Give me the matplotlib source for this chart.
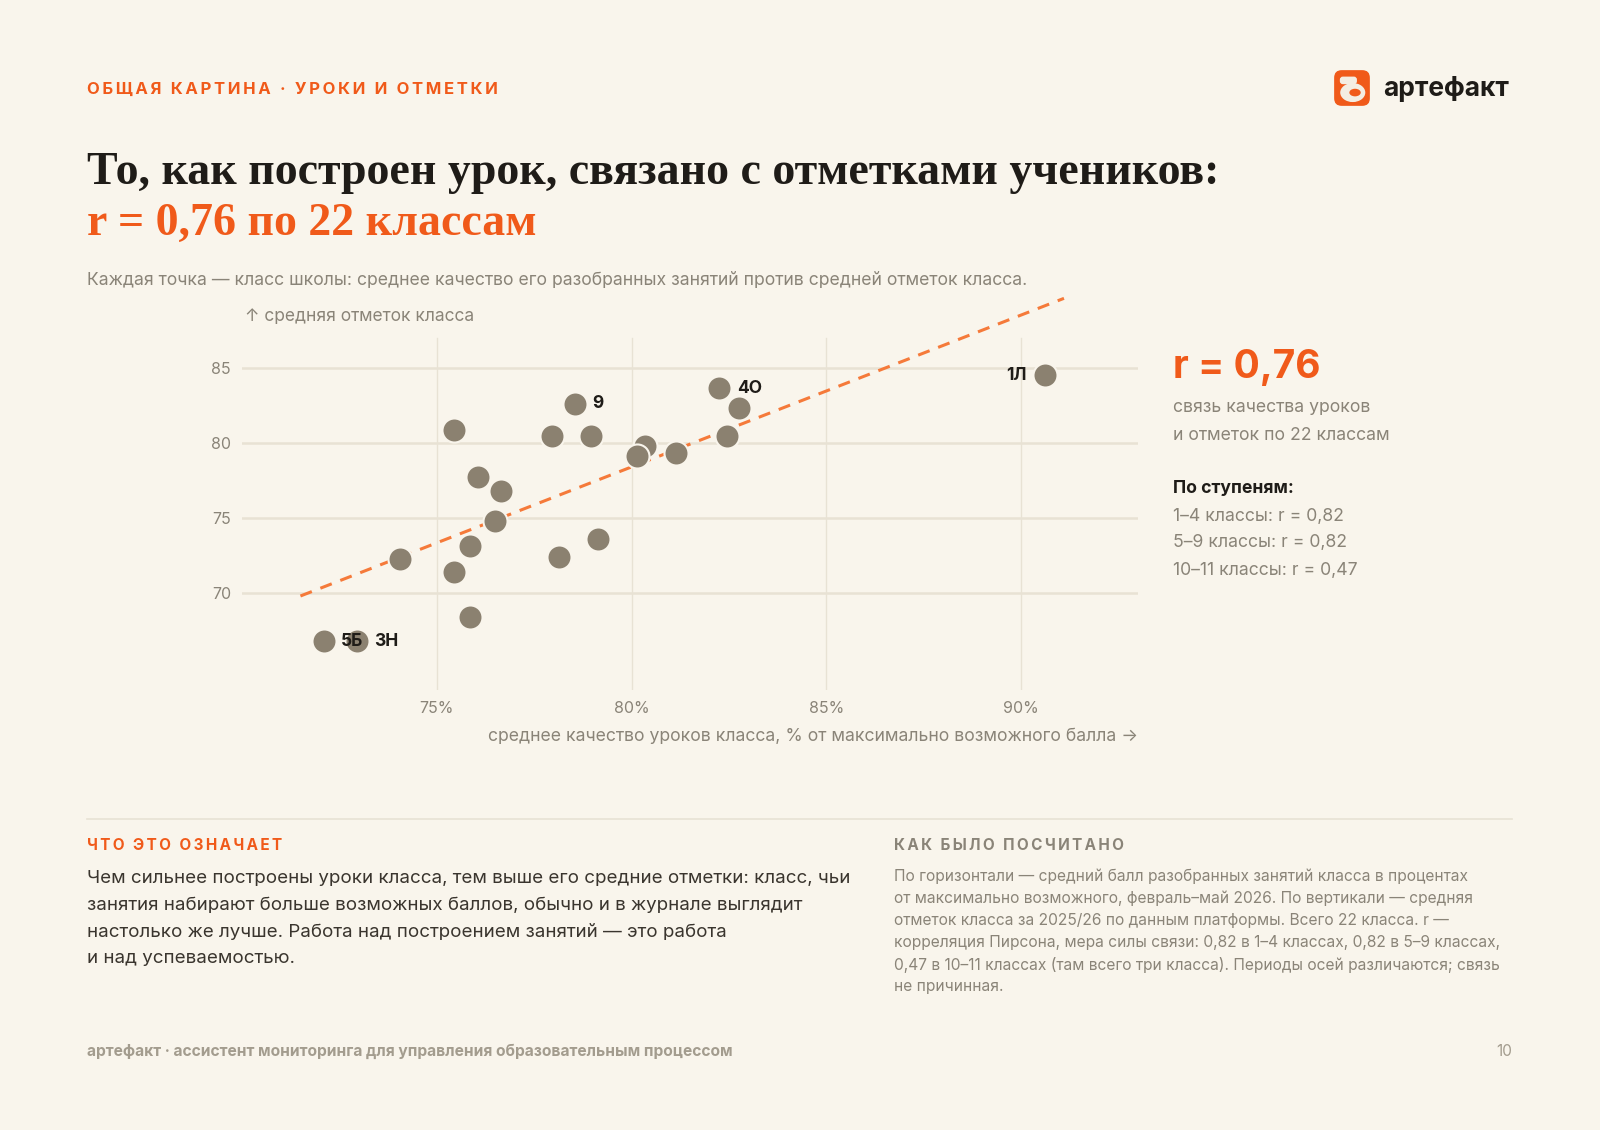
import numpy as np
import matplotlib.pyplot as plt
from matplotlib.patches import FancyBboxPatch, Ellipse

# данные: качество уроков (%) и средняя отметка класса
quality = [90.6, 82.25, 82.75, 78.55, 75.45, 77.95, 78.95, 80.35, 80.15, 81.15, 82.45,
           76.05, 76.65, 76.5, 79.15, 75.85, 78.15, 74.05, 75.45, 75.85, 72.1, 72.95]
grades = [84.5, 83.65, 82.35, 82.6, 80.85, 80.45, 80.45, 79.8, 79.1, 79.3, 80.45,
          77.75, 76.75, 74.8, 73.6, 73.1, 72.4, 72.25, 71.4, 68.4, 66.75, 66.75]
labels = {0: ("1Л", "left"), 1: ("4О", "right"), 3: ("9", "right"),
          20: ("5Б", "right"), 21: ("3Н", "right")}
xticks = [75, 80, 85, 90]
xticklabels = ["75%", "80%", "85%", "90%"]
yticks = [70, 75, 80, 85]
trend_x = [71.5, 91.1]
stages = ["1–4 классы: r = 0,82", "5–9 классы: r = 0,82", "10–11 классы: r = 0,47"]

BG = "#f9f5ec"
OR = "#f05a1a"
DOT = "#8b8170"
GRID = "#e8e2d4"
GRAY = "#8a8478"
DARK = "#1f1c18"

plt.rcParams['font.family'] = ['Inter', 'DejaVu Sans']
fig = plt.figure(figsize=(16, 11.3), dpi=100, facecolor=BG)

def T(x, y, s, **kw):
    fig.text(x / 1600, 1 - y / 1130, s, va="center", **kw)

def spaced(s):
    return "\u2009".join(s)

# шапка
T(87, 89, spaced("ОБЩАЯ КАРТИНА · УРОКИ И ОТМЕТКИ"), color=OR, fontsize=12, weight="bold",
  family=['Inter', 'DejaVu Sans'])
T(1383, 89, "артефакт", color=DARK, fontsize=19, weight="bold")
lax = fig.add_axes([1333 / 1600, 1 - 107 / 1130, 38 / 1600, 38 / 1130])
lax.set_xlim(0, 1); lax.set_ylim(0, 1); lax.axis("off")
lax.add_patch(FancyBboxPatch((0.03, 0.03), 0.94, 0.94, boxstyle="round,pad=0,rounding_size=0.2",
                             fc=OR, ec="none"))
lax.add_patch(Ellipse((0.52, 0.38), 0.66, 0.5, fc="#f4ede2", ec="none"))
lax.add_patch(Ellipse((0.58, 0.38), 0.3, 0.2, fc=OR, ec="none"))
lax.add_patch(FancyBboxPatch((0.18, 0.6), 0.45, 0.2, boxstyle="round,pad=0,rounding_size=0.08",
                             fc="#f4ede2", ec="none"))

T(87, 173, "То, как построен урок, связано с отметками учеников:", color=DARK,
  fontsize=33, weight="bold", family="Liberation Serif")
T(87, 224, "r = 0,76 по 22 классам", color=OR, fontsize=33, weight="bold",
  family="Liberation Serif")
T(87, 281, "Каждая точка — класс школы: среднее качество его разобранных занятий против средней отметок класса.",
  color=GRAY, fontsize=12.7)

# график
ax = fig.add_axes([242 / 1600, 1 - 690 / 1130, 896 / 1600, 397 / 1130])
ax.set_facecolor(BG)
ax.set_xlim(70, 93)
ax.set_ylim(63.5, 90)
for s in ax.spines.values():
    s.set_visible(False)
ax.set_xticks(xticks, xticklabels)
ax.set_yticks(yticks)
ax.tick_params(length=0, colors=GRAY, labelsize=11.5, pad=8)
for v in xticks:
    ax.plot([v, v], [63.5, 87], color=GRID, lw=1, zorder=0)
for v in yticks:
    ax.axhline(v, color=GRID, lw=1.8, zorder=0)

k, b = np.polyfit(quality, grades, 1)
tx = np.array(trend_x)
ax.plot(tx, k * tx + b, color="#f57a3a", lw=2.2, ls=(0, (4, 3)), zorder=2, clip_on=False)
ax.scatter(quality, grades, s=300, color=DOT, edgecolor=BG, lw=1.5, zorder=3)
for i, (lab, side) in labels.items():
    dx = -0.45 if side == "left" else 0.45
    ax.text(quality[i] + dx, grades[i], lab, ha="right" if side == "left" else "left",
            va="center", fontsize=12.5, weight="bold", color=DARK, zorder=4)

T(245, 316, "↑ средняя отметок класса", color=GRAY, fontsize=12.5)
T(1138, 737, "среднее качество уроков класса, % от максимально возможного балла →",
  color=GRAY, fontsize=12.7, ha="right")

# правая панель
T(1173, 367, "r = 0,76", color=OR, fontsize=28, weight="bold")
T(1173, 408, "связь качества уроков", color=GRAY, fontsize=12.7)
T(1173, 435, "и отметок по 22 классам", color=GRAY, fontsize=12.7)
T(1173, 488, "По ступеням:", color=DARK, fontsize=12.7, weight="bold")
for j, s in enumerate(stages):
    T(1173, 516 + j * 27, s, color=GRAY, fontsize=12.7)

# низ
fig.add_artist(plt.Line2D([87 / 1600, 1512 / 1600], [1 - 819 / 1130] * 2, color=GRID, lw=1.2))
T(87, 846, spaced("ЧТО ЭТО ОЗНАЧАЕТ"), color=OR, fontsize=11, weight="bold",
  family=['Inter', 'DejaVu Sans'])
body = ["Чем сильнее построены уроки класса, тем выше его средние отметки: класс, чьи",
        "занятия набирают больше возможных баллов, обычно и в журнале выглядит",
        "настолько же лучше. Работа над построением занятий — это работа",
        "и над успеваемостью."]
for j, s in enumerate(body):
    T(87, 879 + j * 26.5, s, color="#3a352e", fontsize=13.5)
T(894, 846, spaced("КАК БЫЛО ПОСЧИТАНО"), color=GRAY, fontsize=11, weight="bold",
  family=['Inter', 'DejaVu Sans'])
method = ["По горизонтали — средний балл разобранных занятий класса в процентах",
          "от максимально возможного, февраль–май 2026. По вертикали — средняя",
          "отметок класса за 2025/26 по данным платформы. Всего 22 класса. r —",
          "корреляция Пирсона, мера силы связи: 0,82 в 1–4 классах, 0,82 в 5–9 классах,",
          "0,47 в 10–11 классах (там всего три класса). Периоды осей различаются; связь",
          "не причинная."]
for j, s in enumerate(method):
    T(894, 876 + j * 22.2, s, color=GRAY, fontsize=11.2)

T(87, 1051, "артефакт · ассистент мониторинга для управления образовательным процессом",
  color="#a39c8e", fontsize=11.2, weight="bold")
T(1512, 1051, "10", color="#a39c8e", fontsize=11, ha="right")

fig.savefig("out.png", dpi=100, facecolor=BG)
